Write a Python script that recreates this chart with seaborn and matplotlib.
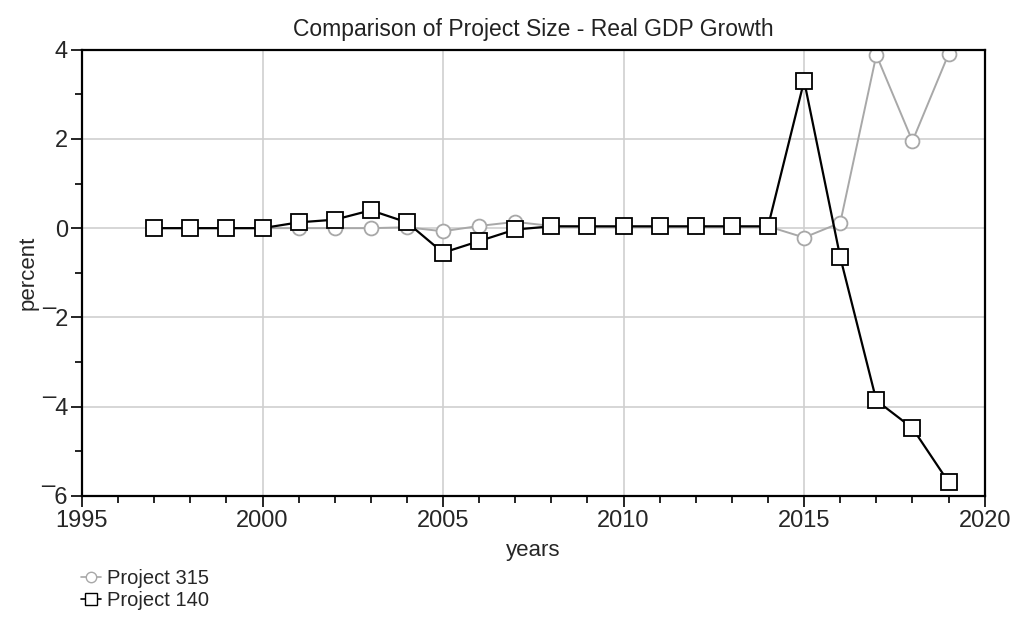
import numpy as np
import pandas as pd
import matplotlib
matplotlib.use("Agg")
import matplotlib.pyplot as plt
from matplotlib.lines import Line2D
from matplotlib.ticker import MultipleLocator, FixedLocator, FixedFormatter
import seaborn as sns

years = list(range(1997, 2020))
project_315 = [0.0, 0.0, 0.0, 0.0, 0.0, 0.0, 0.0, 0.02, -0.07, 0.05, 0.14,
               0.05, 0.04, 0.04, 0.04, 0.04, 0.04, 0.04, -0.21, 0.12, 3.88, 1.95, 3.9]
project_140 = [0.0, 0.0, 0.0, 0.0, 0.13, 0.19, 0.4, 0.13, -0.55, -0.29, -0.03,
               0.04, 0.04, 0.04, 0.04, 0.04, 0.04, 0.04, 3.3, -0.65, -3.86, -4.48, -5.69]
series_names = ["Project 315", "Project 140"]
y_ticks = [4, 2, 0, -2, -4, -6]
y_tick_labels = ["4", "2", "0", "\u00af2", "\u00af4", "\u00af6"]
x_ticks = [1995, 2000, 2005, 2010, 2015, 2020]

df = pd.DataFrame({
    "years": years * 2,
    "percent": project_315 + project_140,
    "series": [series_names[0]] * len(years) + [series_names[1]] * len(years),
})

sns.set_style("white")
plt.rcParams["font.family"] = ["Liberation Sans", "DejaVu Sans"]

fig = plt.figure(figsize=(10.12, 6.2), dpi=100)
ax = fig.add_axes([0.081, 0.2, 0.892, 0.72])

styles = {
    "Project 315": dict(color="#a8a8a8", marker="o", ms=10, lw=1.4, zorder=2),
    "Project 140": dict(color="black", marker="s", ms=12, lw=1.6, zorder=3),
}
for name in series_names:
    st = styles[name]
    sns.lineplot(data=df[df["series"] == name], x="years", y="percent",
                 ax=ax, color=st["color"], marker=st["marker"], markersize=st["ms"],
                 markerfacecolor="white", markeredgecolor=st["color"],
                 markeredgewidth=1.3, linewidth=st["lw"], zorder=st["zorder"],
                 legend=False)

ax.set_xlim(1995, 2020)
ax.set_ylim(-6, 4)
ax.xaxis.set_major_locator(FixedLocator(x_ticks))
ax.xaxis.set_minor_locator(MultipleLocator(1))
ax.yaxis.set_major_locator(FixedLocator(y_ticks))
ax.yaxis.set_major_formatter(FixedFormatter(y_tick_labels))
ax.yaxis.set_minor_locator(MultipleLocator(1))

ax.grid(True, which="major", color="#cfcfcf", linewidth=1.2)
ax.set_axisbelow(True)
for sp in ax.spines.values():
    sp.set_color("black")
    sp.set_linewidth(1.6)

ax.tick_params(axis="both", which="major", direction="out", length=8, width=1.2,
               color="black", labelsize=17, pad=2)
ax.tick_params(axis="both", which="minor", direction="out", length=5, width=1.2,
               color="black")
ax.tick_params(axis="both", which="both", bottom=True, left=True)

ax.set_title("Comparison of Project Size - Real GDP Growth", fontsize=16.5,
             color="#222222", pad=10)
ax.set_xlabel("years", fontsize=16, labelpad=6)
ax.set_ylabel("percent", fontsize=16, labelpad=2)

handles = [
    Line2D([], [], color=styles[n]["color"], marker=styles[n]["marker"],
           markersize=styles[n]["ms"] * 0.75, markerfacecolor="white",
           markeredgecolor=styles[n]["color"], lw=1.2)
    for n in series_names
]
fig.legend(handles, series_names, loc="upper left", bbox_to_anchor=(0.07, 0.098),
           frameon=False, fontsize=14.5, handlelength=1.0, handletextpad=0.3,
           labelspacing=0.15, borderpad=0)

fig.savefig("out.png", dpi=100, facecolor="white")
